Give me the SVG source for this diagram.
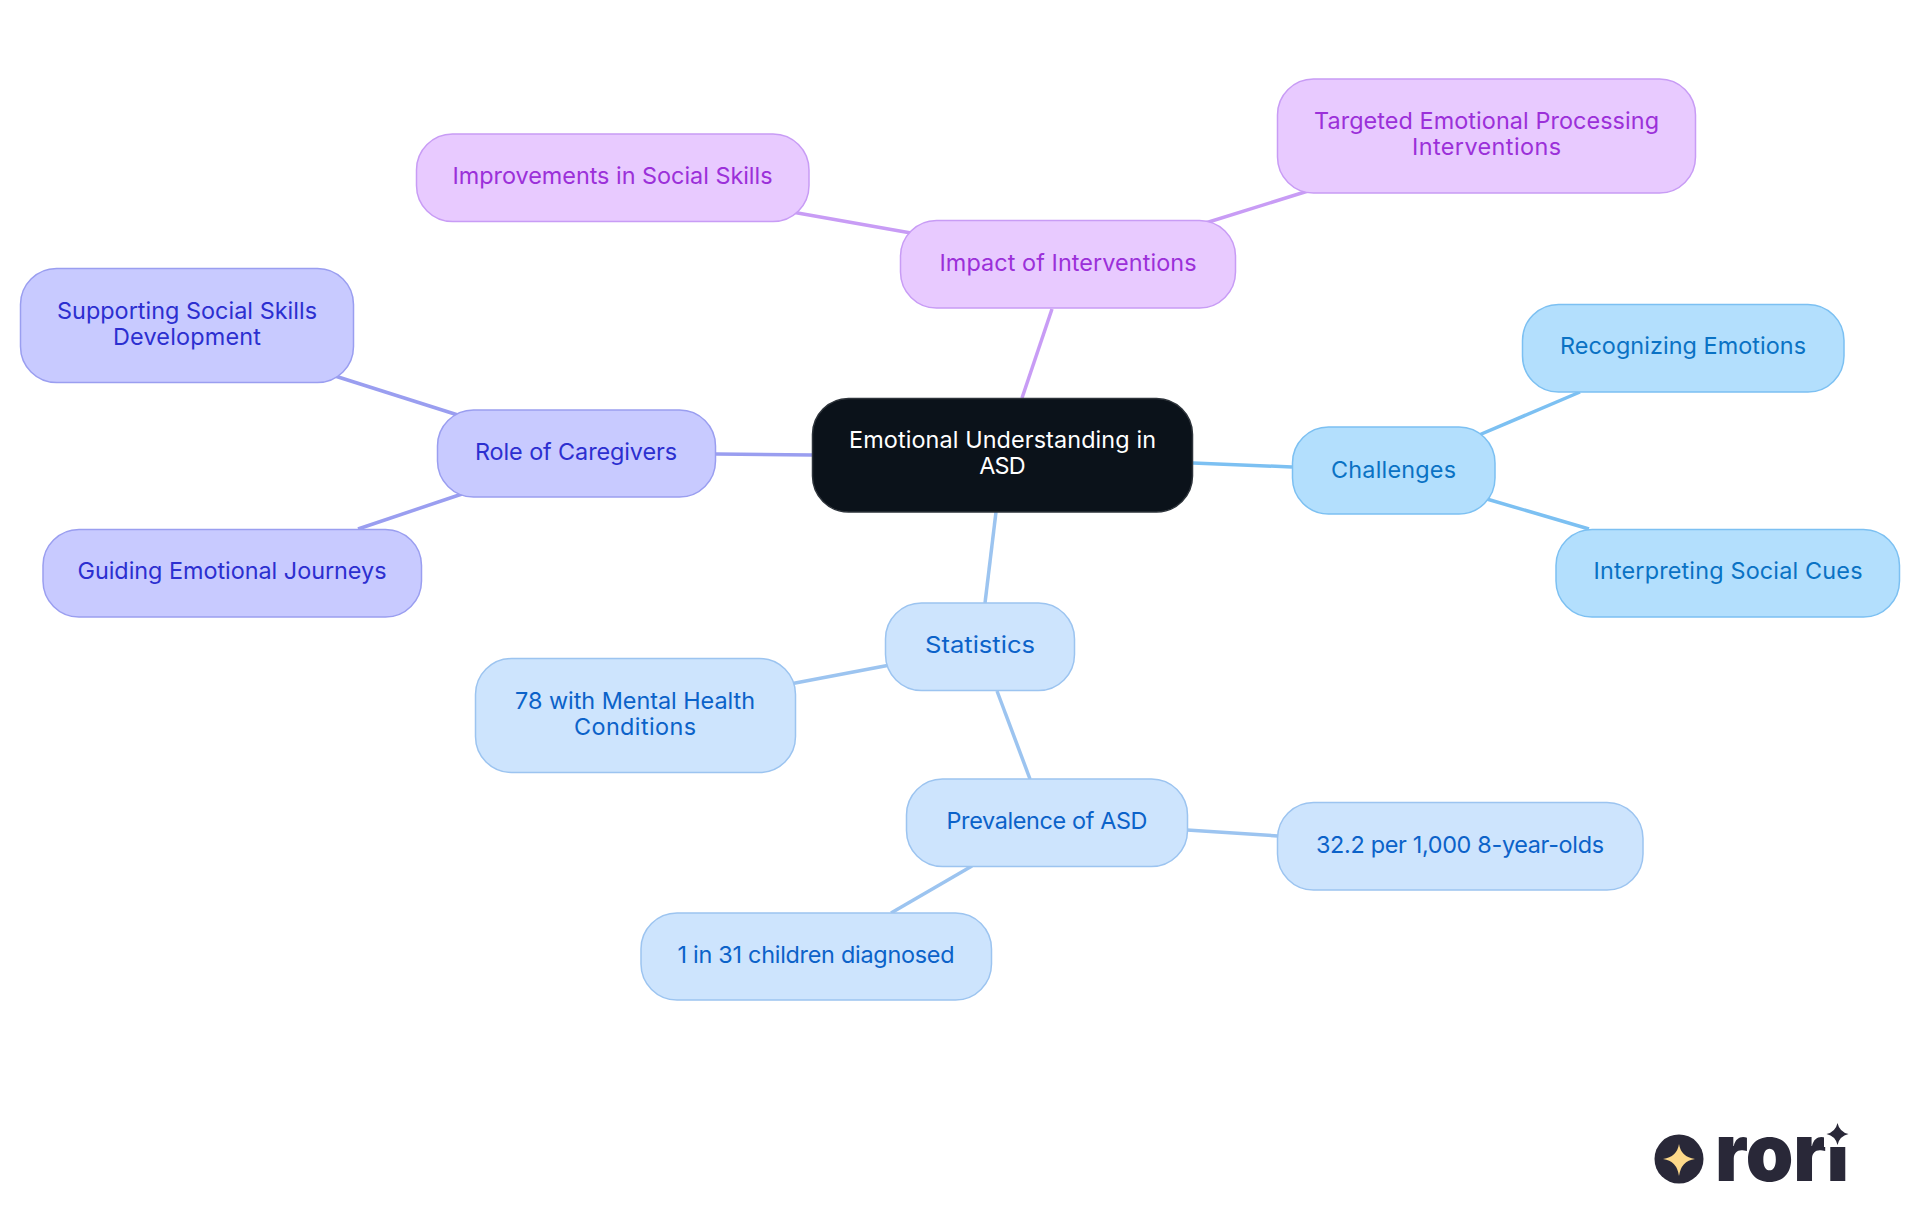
<svg xmlns="http://www.w3.org/2000/svg" width="1920" height="1215" viewBox="0 0 1920 1215">
<style>
text{font-family:"Inter","Noto Sans","Liberation Sans",sans-serif;font-size:23.4px;text-anchor:middle;font-weight:400}
.box{stroke-width:1.5}
.c line{stroke-width:3.5;fill:none}
.root rect{fill:#0b121a;stroke:#2d333a}.root text{fill:#fff}
.ch rect{fill:#b3dffd;stroke:#7cc0f2}.ch text{fill:#0a72c4}
.st rect{fill:#cde4fd;stroke:#9cc4f0}.st text{fill:#0b62c9}
.ro rect{fill:#c8caff;stroke:#9a9ef0}.ro text{fill:#2c2fd0}
.im rect{fill:#e8caff;stroke:#c89cf5}.im text{fill:#9b30d9}
.lch{stroke:#7cc0f2}.lst{stroke:#9cc4f0}.lro{stroke:#9a9ef0}.lim{stroke:#c89cf5}
</style>
<g id="connectors" class="c">
<line class="lch" x1="1193" y1="463" x2="1292" y2="467"/>
<line class="lro" x1="716" y1="454" x2="812" y2="455"/>
<line class="lst" x1="996" y1="512" x2="985" y2="603"/>
<line class="lim" x1="1022" y1="398" x2="1052" y2="309"/>
<line class="lim" x1="911" y1="233" x2="792" y2="212"/>
<line class="lim" x1="1199" y1="225" x2="1308" y2="191"/>
<line class="lro" x1="461" y1="416" x2="335" y2="376"/>
<line class="lro" x1="462" y1="494" x2="358" y2="529"/>
<line class="lch" x1="1472" y1="438" x2="1580" y2="392"/>
<line class="lch" x1="1480" y1="497" x2="1589" y2="529"/>
<line class="lst" x1="890" y1="665" x2="790" y2="684"/>
<line class="lst" x1="997" y1="691" x2="1030" y2="779"/>
<line class="lst" x1="1187" y1="830" x2="1278" y2="836"/>
<line class="lst" x1="972" y1="866" x2="891" y2="913"/>
</g>
<g id="root" class="root"><rect class="box" x="812.5" y="398.5" width="380" height="113.5" rx="36"/><text x="1002.5" y="447.5" textLength="307">Emotional Understanding in</text><text x="1002.5" y="473.5" textLength="46.5">ASD</text></g>
<g id="challenges" class="ch"><rect class="box" x="1292.5" y="427" width="202.5" height="87" rx="36"/><text x="1393.5" y="477.5" textLength="125">Challenges</text></g>
<g id="recognizing" class="ch"><rect class="box" x="1522.5" y="304.5" width="321.5" height="87.5" rx="36"/><text x="1683" y="354" textLength="246">Recognizing Emotions</text></g>
<g id="interpreting" class="ch"><rect class="box" x="1556" y="529.5" width="343.5" height="87.5" rx="36"/><text x="1728" y="579" textLength="269">Interpreting Social Cues</text></g>
<g id="statistics" class="st"><rect class="box" x="885.5" y="603" width="189" height="87.5" rx="36"/><text x="980" y="653" textLength="110" lengthAdjust="spacingAndGlyphs">Statistics</text></g>
<g id="mental" class="st"><rect class="box" x="475.5" y="658.5" width="320" height="114" rx="36"/><text x="635" y="708.5" textLength="240">78 with Mental Health</text><text x="635" y="734.5" textLength="122">Conditions</text></g>
<g id="prevalence" class="st"><rect class="box" x="906.5" y="779" width="281" height="87.5" rx="36"/><text x="1047" y="829" textLength="201">Prevalence of ASD</text></g>
<g id="per1000" class="st"><rect class="box" x="1277.5" y="802.5" width="365.5" height="87.5" rx="36"/><text x="1460" y="853" textLength="288">32.2 per 1,000 8-year-olds</text></g>
<g id="oneIn31" class="st"><rect class="box" x="641" y="913" width="350.5" height="87" rx="36"/><text x="816" y="963" textLength="277">1 in 31 children diagnosed</text></g>
<g id="role" class="ro"><rect class="box" x="437.5" y="410" width="278" height="87" rx="36"/><text x="576" y="460" textLength="202">Role of Caregivers</text></g>
<g id="supporting" class="ro"><rect class="box" x="20.5" y="268.5" width="333" height="114" rx="36"/><text x="187" y="319" textLength="260">Supporting Social Skills</text><text x="187" y="345" textLength="148">Development</text></g>
<g id="guiding" class="ro"><rect class="box" x="43" y="529.5" width="378.5" height="87.5" rx="36"/><text x="232" y="579" textLength="309">Guiding Emotional Journeys</text></g>
<g id="impact" class="im"><rect class="box" x="900.5" y="220.5" width="335" height="87.5" rx="36"/><text x="1068" y="270.5" textLength="257">Impact of Interventions</text></g>
<g id="improvements" class="im"><rect class="box" x="416.5" y="134" width="392.5" height="87.5" rx="36"/><text x="612.5" y="184" textLength="320">Improvements in Social Skills</text></g>
<g id="targeted" class="im"><rect class="box" x="1277.5" y="79" width="418" height="114" rx="36"/><text x="1486.5" y="128.5" textLength="345">Targeted Emotional Processing</text><text x="1486.5" y="154.5" textLength="149">Interventions</text></g>
<g id="logo">
<circle cx="1679" cy="1159" r="24.5" fill="#292838"/>
<path d="M1679 1144 Q1681 1157 1695 1159 Q1681 1161 1679 1176 Q1677 1161 1663 1159 Q1677 1157 1679 1144Z" fill="#fdd98a"/>
<text x="1782" y="1181" textLength="134" lengthAdjust="spacingAndGlyphs" style="font-size:80px;font-weight:900" fill="#292838">rori</text>
<rect x="1824" y="1112" width="28" height="35" fill="#fff"/>
<path d="M1837.5 1123 Q1839.5 1132 1848.5 1134 Q1839.5 1136 1837.5 1145 Q1835.5 1136 1826.5 1134 Q1835.5 1132 1837.5 1123Z" fill="#292838"/>
</g>
</svg>
